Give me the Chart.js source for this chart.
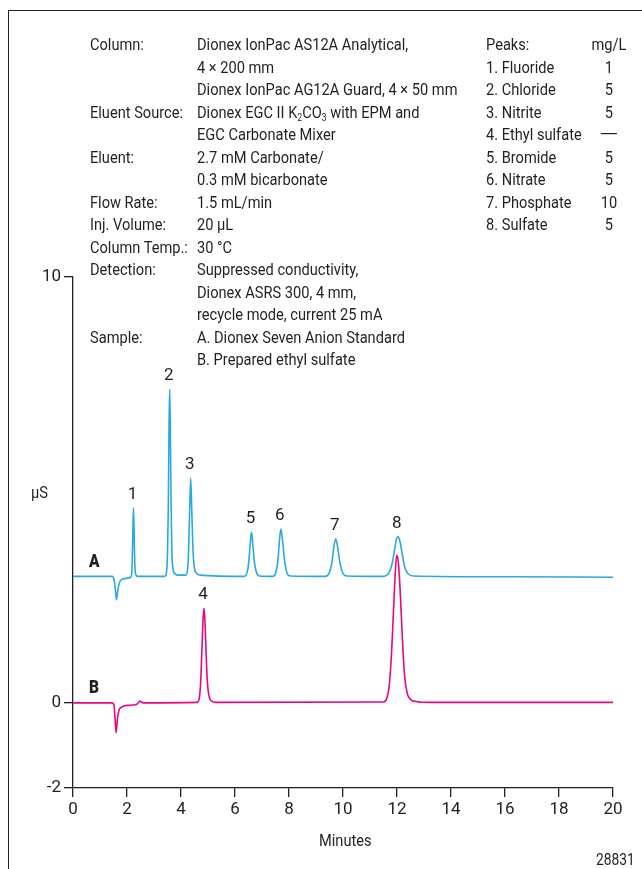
<!DOCTYPE html>
<html>
<head>
<meta charset="utf-8">
<script src="https://cdn.jsdelivr.net/npm/chart.js@4/dist/chart.umd.min.js"></script>
<style>
  html, body { margin: 0; padding: 0; background: #fff; }
  #wrap { position: relative; width: 642px; height: 869px; overflow: hidden; }
  #wrap canvas { position: absolute; left: 0; top: 0; }
  .frame { position: absolute; left: 8px; top: 10px; width: 700px; height: 900px;
           border-top: 1.3px solid #222; border-left: 1.3px solid #222; }
  .txt { position: absolute; font-family: Roboto, 'Liberation Sans', sans-serif;
         font-size: 17px; color: #231f20; line-height: 22.5px; white-space: nowrap;
         transform: scaleX(0.86); transform-origin: 0 0; }
  .txt sub { font-size: 10px; line-height: 0; vertical-align: -3px; }
  .bold { font-weight: 900; font-size: 18px; }
  .dash { display: inline-block; transform: scaleX(1.7); }
</style>
</head>
<body>
<div id="wrap">
  <div class="frame"></div>
  <canvas id="chart" width="642" height="869"></canvas>

  <div class="txt" style="left:90px; top:33px;">
    Column:<br><br><br>Eluent Source:<br><br>Eluent:<br><br>Flow Rate:<br>Inj. Volume:<br>Column Temp.:<br>Detection:<br><br><br>Sample:
  </div>
  <div class="txt" style="left:197px; top:33px;">
    Dionex IonPac AS12A Analytical,<br>
    4 × 200 mm<br>
    Dionex IonPac AG12A Guard, 4 × 50 mm<br>
    Dionex EGC II K<sub>2</sub>CO<sub>3</sub> with EPM and<br>
    EGC Carbonate Mixer<br>
    2.7 mM Carbonate/<br>
    0.3 mM bicarbonate<br>
    1.5 mL/min<br>
    20 µL<br>
    30 °C<br>
    Suppressed conductivity,<br>
    Dionex ASRS 300, 4 mm,<br>
    recycle mode, current 25 mA<br>
    A. Dionex Seven Anion Standard<br>
    B. Prepared ethyl sulfate
  </div>
  <div class="txt" style="left:486px; top:33px;">
    Peaks:<br>1. Fluoride<br>2. Chloride<br>3. Nitrite<br>4. Ethyl sulfate<br>5. Bromide<br>6. Nitrate<br>7. Phosphate<br>8. Sulfate
  </div>
  <div class="txt" style="left:590px; top:33px; width:44px; text-align:center;">
    mg/L<br>1<br>5<br>5<br><span class="dash">—</span><br>5<br>5<br>10<br>5
  </div>

  <div class="txt" style="left:31px; top:481px;">µS</div>
  <div class="txt bold" style="left:89px; top:550px;">A</div>
  <div class="txt bold" style="left:89px; top:676px;">B</div>
  <div class="txt" style="left:319px; top:829px;">Minutes</div>
  <div class="txt" style="left:596px; top:849px; font-size:16px;">28831</div>
</div>

<script>
// Trace A: Seven anion standard (plotted with its baseline near 3 µS)
const timesA = [0, 1.45, 1.52, 1.57, 1.61, 1.65, 1.71, 1.8, 1.95, 2.1, 2.16, 2.19, 2.215, 2.24, 2.265, 2.29, 2.32, 2.4,
  3.4, 3.46, 3.5, 3.53, 3.555, 3.58, 3.605, 3.63, 3.66, 3.7, 3.78, 3.9,
  4.18, 4.24, 4.28, 4.32, 4.36, 4.4, 4.44, 4.49, 4.56, 4.7,
  6.35, 6.45, 6.51, 6.56, 6.61, 6.66, 6.72, 6.79, 6.9,
  7.4, 7.52, 7.59, 7.645, 7.7, 7.76, 7.83, 7.91, 8.05,
  9.35, 9.5, 9.59, 9.66, 9.73, 9.8, 9.88, 9.97, 10.15,
  11.5, 11.7, 11.8, 11.9, 11.97, 12.03, 12.1, 12.18, 12.28, 12.4, 12.6, 16, 20];
const signalA = [2.97, 2.97, 2.9, 2.65, 2.42, 2.6, 2.8, 2.9, 2.92, 2.94, 2.98, 3.25, 3.95, 4.58, 3.95, 3.25, 3.02, 2.97,
  2.97, 3.05, 3.5, 4.6, 6.4, 7.36, 6.5, 4.8, 3.6, 3.15, 3.03, 3.0,
  3.0, 3.12, 3.55, 4.5, 5.27, 4.5, 3.65, 3.2, 3.05, 3.0,
  2.97, 3.07, 3.3, 3.7, 4.01, 3.72, 3.3, 3.07, 2.98,
  2.97, 3.08, 3.35, 3.8, 4.08, 3.82, 3.38, 3.08, 2.98,
  2.97, 3.07, 3.3, 3.65, 3.85, 3.67, 3.32, 3.08, 2.98,
  2.97, 3.05, 3.22, 3.55, 3.82, 3.9, 3.82, 3.55, 3.2, 3.04, 2.98, 2.96, 2.95];

// Trace B: prepared ethyl sulfate
const timesB = [0, 1.45, 1.52, 1.56, 1.6, 1.64, 1.7, 1.8, 2.0, 2.35, 2.44, 2.48, 2.53, 2.6,
  4.6, 4.68, 4.73, 4.78, 4.82, 4.85, 4.88, 4.92, 4.97, 5.03, 5.12, 5.3,
  11.5, 11.62, 11.72, 11.8, 11.88, 11.94, 11.99, 12.05, 12.12, 12.2, 12.28, 12.38, 12.5, 12.7, 13.2, 20];
const signalB = [0, 0, -0.05, -0.4, -0.7, -0.4, -0.18, -0.1, -0.06, -0.04, 0.02, 0.04, 0.02, 0,
  0.01, 0.12, 0.5, 1.35, 2.0, 2.22, 2.0, 1.35, 0.55, 0.18, 0.05, 0.01,
  0.02, 0.1, 0.45, 1.2, 2.3, 3.1, 3.47, 3.3, 2.6, 1.5, 0.65, 0.22, 0.08, 0.03, 0.01, 0.01];

const xTickValues = [0, 2, 4, 6, 8, 10, 12, 14, 16, 18, 20];
const yTickValues = [-2, 0, 10];

// Peak numbers: label, retention time, apex value
const peakLabelsA = ['1', '2', '3', '5', '6', '7', '8'];
const peakTimesA = [2.24, 3.58, 4.36, 6.61, 7.7, 9.73, 12.03];
const peakTopsA = [4.58, 7.36, 5.27, 4.01, 4.08, 3.85, 3.9];
const peakLabelsB = ['4'];
const peakTimesB = [4.85];
const peakTopsB = [2.22];

const COLOR_A = '#2aa9e0';
const COLOR_B = '#e5097f';
const INK = '#231f20';
const FONT = "Roboto, 'Liberation Sans', sans-serif";

const toPoints = (xs, ys) => xs.map((x, i) => ({ x, y: ys[i] }));

const peakLabelPlugin = {
  id: 'peakLabels',
  afterDatasetsDraw(chart) {
    const { ctx, scales: { x, y } } = chart;
    ctx.save();
    ctx.fillStyle = INK;
    ctx.font = `17px ${FONT}`;
    ctx.textAlign = 'center';
    ctx.textBaseline = 'bottom';
    const draw = (labels, times, tops) => {
      labels.forEach((lab, i) => {
        ctx.fillText(lab, x.getPixelForValue(times[i]) - 1, y.getPixelForValue(tops[i]) - 5);
      });
    };
    draw(peakLabelsA, peakTimesA, peakTopsA);
    draw(peakLabelsB, peakTimesB, peakTopsB);
    ctx.restore();
  }
};

new Chart(document.getElementById('chart'), {
  type: 'line',
  data: {
    datasets: [
      { label: 'A', data: toPoints(timesA, signalA), borderColor: COLOR_A, borderWidth: 1.6,
        pointRadius: 0, cubicInterpolationMode: 'monotone', fill: false },
      { label: 'B', data: toPoints(timesB, signalB), borderColor: COLOR_B, borderWidth: 1.6,
        pointRadius: 0, cubicInterpolationMode: 'monotone', fill: false }
    ]
  },
  options: {
    responsive: false,
    animation: false,
    layout: { padding: { left: 0, top: 277, right: 29, bottom: 0 } },
    plugins: { legend: { display: false }, tooltip: { enabled: false } },
    scales: {
      x: {
        type: 'linear', min: 0, max: 20,
        afterBuildTicks: (s) => { s.ticks = xTickValues.map((v) => ({ value: v })); },
        afterFit: (s) => { s.height = 81; },
        grid: { drawOnChartArea: false, drawTicks: true, tickLength: 9, color: INK, lineWidth: 1.3 },
        border: { display: true, color: INK, width: 1.3 },
        ticks: { color: INK, font: { family: FONT, size: 17 }, padding: 3, maxRotation: 0 }
      },
      y: {
        min: -2, max: 10,
        afterBuildTicks: (s) => { s.ticks = yTickValues.map((v) => ({ value: v })); },
        afterFit: (s) => { s.width = 73; },
        grid: { drawOnChartArea: false, drawTicks: true, tickLength: 9, color: INK, lineWidth: 1.3 },
        border: { display: true, color: INK, width: 1.3 },
        ticks: { color: INK, font: { family: FONT, size: 17 }, padding: 3 }
      }
    }
  },
  plugins: [peakLabelPlugin]
});
</script>
</body>
</html>
